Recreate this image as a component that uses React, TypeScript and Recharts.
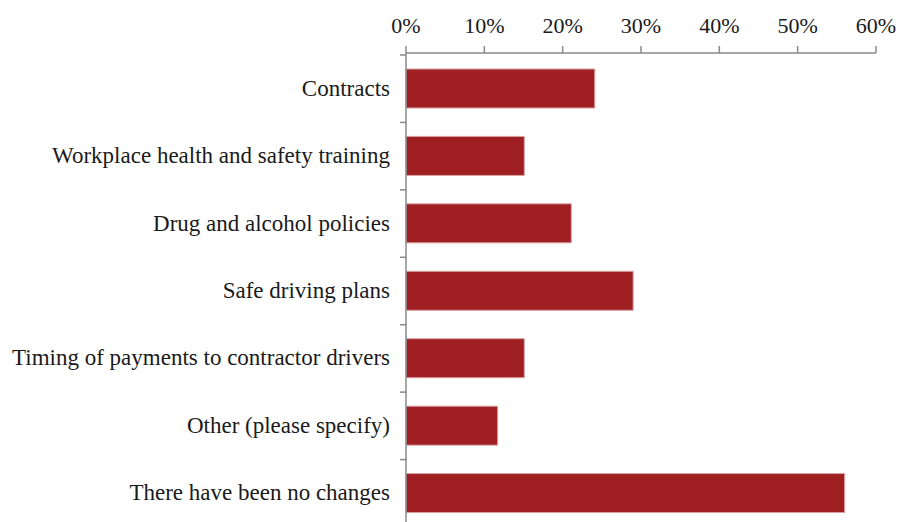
import React from 'react';
import { BarChart, Bar, XAxis, YAxis } from 'recharts';

const categories = [
  'Contracts',
  'Workplace health and safety training',
  'Drug and alcohol policies',
  'Safe driving plans',
  'Timing of payments to contractor drivers',
  'Other (please specify)',
  'There have been no changes',
];
const shares = [0.241, 0.151, 0.211, 0.29, 0.151, 0.117, 0.56];
const xTicks = [0, 0.1, 0.2, 0.3, 0.4, 0.5, 0.6];

const data = categories.map((c, i) => ({ name: c, value: shares[i] }));

const W = 904;
const H = 522;
const CHART_H = 527;
const TOP = 53;
const PAD_TOP = 2;
const BAND = (CHART_H - TOP - PAD_TOP) / categories.length;
const FONT = '"Liberation Serif", serif';
const AXIS = '#8a8a8a';

const YTick = (props: any) => {
  const { x, y, payload, index } = props;
  const half = BAND / 2;
  return (
    <g>
      <line x1={x + 10} x2={x + 16} y1={y - half} y2={y - half} stroke={AXIS} strokeWidth={1.5} />
      {index === categories.length - 1 ? (
        <line x1={x + 10} x2={x + 16} y1={y + half} y2={y + half} stroke={AXIS} strokeWidth={1.5} />
      ) : null}
      <text x={x} y={y} dy={7} textAnchor="end" fill="#1a1a1a" fontSize={23} fontFamily={FONT}>
        {payload.value}
      </text>
    </g>
  );
};

export default function App() {
  return (
    <div style={{ position: 'absolute', left: 0, top: 0, width: W, height: H, overflow: 'hidden', background: '#fff' }}>
      <BarChart
        width={W}
        height={CHART_H}
        data={data}
        layout="vertical"
        margin={{ top: 0, right: 28, bottom: 0, left: 0 }}
        barSize={39}
      >
        <XAxis
          type="number"
          orientation="top"
          domain={[0, 0.6]}
          ticks={xTicks}
          tickFormatter={(v: number) => `${Math.round(v * 100)}%`}
          height={TOP}
          tickSize={7}
          tickMargin={13}
          axisLine={{ stroke: AXIS, strokeWidth: 1.5 }}
          tickLine={{ stroke: AXIS, strokeWidth: 1.5 }}
          tick={{ fill: '#1a1a1a', fontSize: 22, fontFamily: FONT }}
          interval={0}
        />
        <YAxis
          type="category"
          dataKey="name"
          width={406}
          tickLine={false}
          tickSize={0}
          tickMargin={16}
          padding={{ top: PAD_TOP, bottom: 0 }}
          axisLine={{ stroke: AXIS, strokeWidth: 1.5 }}
          tick={<YTick />}
          interval={0}
        />
        <Bar dataKey="value" fill="#A01F22" stroke="#d9a3a3" strokeWidth={1} isAnimationActive={false} />
      </BarChart>
    </div>
  );
}
